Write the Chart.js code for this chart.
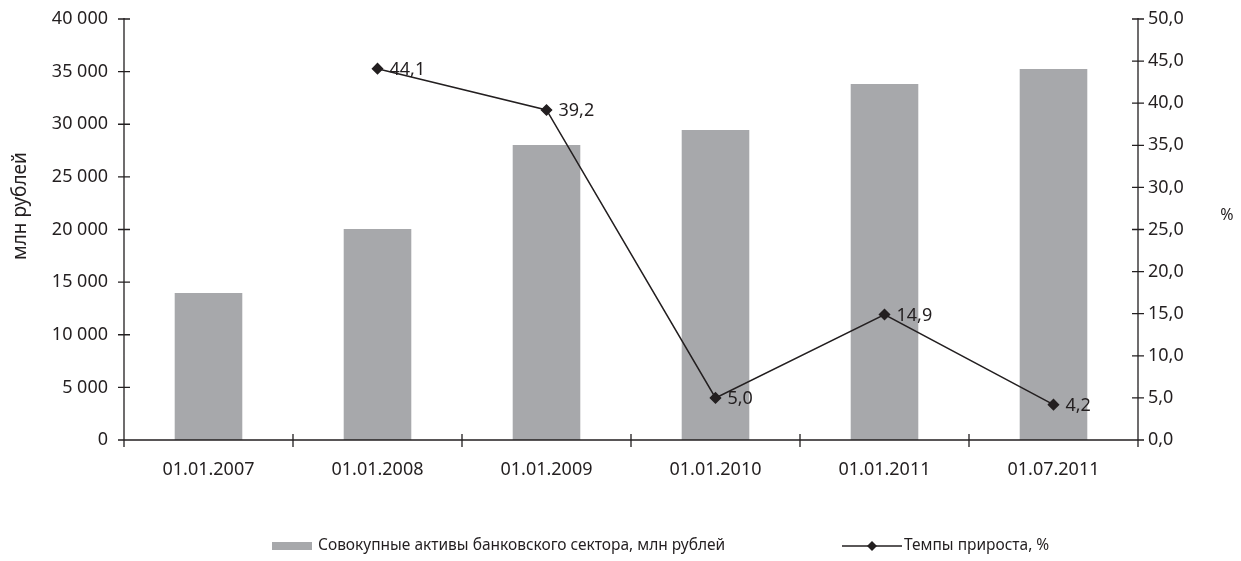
<!DOCTYPE html>
<html>
<head>
<meta charset="utf-8">
<script src="https://cdn.jsdelivr.net/npm/chart.js@4.4.1/dist/chart.umd.min.js"></script>
<style>
html, body { margin: 0; background: #fff; }
#wrap { width: 1241px; height: 561px; }
</style>
</head>
<body>
<div id="wrap"><canvas id="chart"></canvas></div>
<script>
const dates = ['01.01.2007', '01.01.2008', '01.01.2009', '01.01.2010', '01.01.2011', '01.07.2011'];
const assets = [13970, 20050, 28030, 29450, 33820, 35250];
const growth = [null, 44.1, 39.2, 5.0, 14.9, 4.2];

const ink = '#231f20';
const barGrey = '#a7a8ab';
const fontFamily = '"Noto Sans", sans-serif';
const numSize = 18;
const textSize = 15.5;
Chart.defaults.font.family = fontFamily;
Chart.defaults.font.size = numSize;
Chart.defaults.color = ink;

function ruNum(v, digits) {
    return v.toFixed(digits).replace('.', ',').replace(/\B(?=(\d{3})+(?!\d))/g, ' ');
}

// axis lines + crossing tick marks, axis titles
const axisMarks = {
    id: 'axisMarks',
    afterDraw(chart) {
        const { ctx, chartArea: a, scales: { x, y, y1 } } = chart;
        ctx.save();
        ctx.strokeStyle = ink;
        ctx.lineWidth = 1.3;
        ctx.beginPath();
        ctx.moveTo(a.left, a.top - 1); ctx.lineTo(a.left, a.bottom);
        ctx.moveTo(a.right, a.top - 1); ctx.lineTo(a.right, a.bottom);
        ctx.moveTo(a.left, a.bottom); ctx.lineTo(a.right, a.bottom);
        y.ticks.forEach(t => {
            const p = y.getPixelForValue(t.value);
            ctx.moveTo(a.left - 6, p); ctx.lineTo(a.left + 6, p);
        });
        y1.ticks.forEach(t => {
            const p = y1.getPixelForValue(t.value);
            ctx.moveTo(a.right - 6, p); ctx.lineTo(a.right + 6, p);
        });
        for (let i = 0; i <= dates.length; i++) {
            const p = x.getPixelForValue(i - 0.5);
            ctx.moveTo(p, a.bottom - 6); ctx.lineTo(p, a.bottom + 7);
        }
        ctx.stroke();

        ctx.fillStyle = ink;
        ctx.textAlign = 'center';
        ctx.textBaseline = 'middle';
        ctx.font = '16px ' + fontFamily;
        ctx.fillText('%', 1227, 215);
        ctx.translate(21, 206);
        ctx.rotate(-Math.PI / 2);
        ctx.font = '19px ' + fontFamily;
        ctx.fillText('млн рублей', 0, 0);
        ctx.restore();
    }
};

const pointLabels = {
    id: 'pointLabels',
    afterDatasetsDraw(chart) {
        const ctx = chart.ctx;
        const meta = chart.getDatasetMeta(1);
        ctx.save();
        ctx.fillStyle = ink;
        ctx.font = numSize + 'px ' + fontFamily;
        ctx.textAlign = 'left';
        ctx.textBaseline = 'middle';
        meta.data.forEach((pt, i) => {
            if (growth[i] === null) return;
            ctx.fillText(ruNum(growth[i], 1), pt.x + 12, pt.y + 1);
        });
        ctx.restore();
    }
};

const bottomLegend = {
    id: 'bottomLegend',
    afterDraw(chart) {
        const ctx = chart.ctx;
        const t1 = chart.data.datasets[0].label;
        const t2 = chart.data.datasets[1].label;
        ctx.save();
        ctx.font = textSize + 'px ' + fontFamily;
        const y = 546;
        let x = 272;
        ctx.fillStyle = barGrey;
        ctx.fillRect(x, y - 4, 40, 8);
        ctx.fillStyle = ink;
        ctx.textBaseline = 'middle';
        ctx.fillText(t1, x + 46, y);
        x = 842;
        ctx.strokeStyle = ink;
        ctx.lineWidth = 1.5;
        ctx.beginPath();
        ctx.moveTo(x, y); ctx.lineTo(x + 60, y);
        ctx.stroke();
        ctx.beginPath();
        ctx.moveTo(x + 30, y - 5); ctx.lineTo(x + 35, y); ctx.lineTo(x + 30, y + 5); ctx.lineTo(x + 25, y);
        ctx.closePath();
        ctx.fill();
        ctx.fillText(t2, x + 62, y);
        ctx.restore();
    }
};

new Chart('chart', {
    type: 'bar',
    data: {
        labels: dates,
        datasets: [{
            label: 'Совокупные активы банковского сектора, млн рублей',
            data: assets,
            backgroundColor: barGrey,
            barPercentage: 0.4,
            categoryPercentage: 1,
            yAxisID: 'y',
            order: 1
        }, {
            type: 'line',
            label: 'Темпы прироста, %',
            data: growth,
            borderColor: ink,
            backgroundColor: ink,
            borderWidth: 1.5,
            pointStyle: 'rectRot',
            pointRadius: 5,
            tension: 0,
            spanGaps: false,
            yAxisID: 'y1',
            order: 0
        }]
    },
    options: {
        responsive: true,
        maintainAspectRatio: false,
        animation: false,
        layout: { padding: { top: 19, left: 0, right: 0, bottom: 81 } },
        plugins: {
            legend: { display: false },
            tooltip: { enabled: false }
        },
        scales: {
            x: {
                offset: true,
                grid: { display: false, drawTicks: false },
                border: { display: false },
                ticks: { padding: 19, maxRotation: 0 },
                afterFit(s) { s.height = 40; s.paddingLeft = 0; s.paddingRight = 0; }
            },
            y: {
                position: 'left',
                min: 0,
                max: 40000,
                grid: { display: false, drawTicks: false },
                border: { display: false },
                ticks: { stepSize: 5000, padding: 16, callback: v => ruNum(v, 0) },
                afterFit(s) { s.width = 124; s.paddingTop = 0; s.paddingBottom = 0; }
            },
            y1: {
                position: 'right',
                min: 0,
                max: 50,
                grid: { display: false, drawTicks: false },
                border: { display: false },
                ticks: { stepSize: 5, padding: 10, callback: v => ruNum(v, 1) },
                afterFit(s) { s.width = 103; s.paddingTop = 0; s.paddingBottom = 0; }
            }
        }
    },
    plugins: [axisMarks, pointLabels, bottomLegend]
});
</script>
</body>
</html>
